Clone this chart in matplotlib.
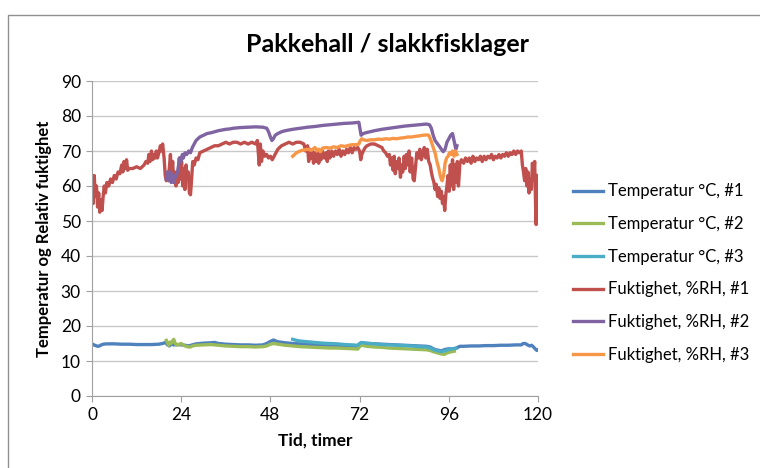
#!/usr/bin/env python3

import matplotlib
matplotlib.use('Agg')
import matplotlib.pyplot as plt
from matplotlib.patches import Rectangle

plt.rcParams['font.family'] = ['Lato', 'DejaVu Sans']

# ---- data (hours, value) ----
temp1_t = [0, 0.5, 1, 1.5, 2, 2.5, 3, 4, 6, 8, 10, 12, 14, 16, 18, 19, 19.8, 20.3, 20.8, 21.3, 22, 23, 24, 25, 26, 27, 28, 30, 32, 33, 34, 36, 38, 40, 42, 44, 46, 47, 48, 48.8, 49.5, 50, 52, 54, 56, 58, 60, 62, 64, 66, 68, 70, 71.5, 72, 72.5, 73, 74, 76, 78, 80, 82, 84, 86, 88, 90, 91, 92, 93, 94, 95, 96, 97, 98, 99, 100, 102, 104, 106, 108, 110, 112, 114, 115.5, 116, 116.6, 117.2, 117.8, 118.3, 118.8, 119.3, 119.7, 120]
temp1_v = [14.9, 14.6, 14.4, 14.2, 14.3, 14.6, 14.8, 14.9, 14.9, 14.8, 14.8, 14.7, 14.7, 14.7, 14.8, 15.0, 15.3, 14.6, 14.3, 14.8, 14.6, 14.7, 14.6, 14.5, 14.3, 14.6, 14.9, 15.1, 15.2, 15.3, 15.0, 14.8, 14.7, 14.6, 14.6, 14.5, 14.6, 15.0, 15.6, 16.0, 15.7, 15.5, 15.2, 15.0, 14.9, 14.8, 14.7, 14.6, 14.5, 14.5, 14.4, 14.3, 14.2, 14.8, 15.2, 15.1, 15.0, 14.9, 14.8, 14.7, 14.6, 14.5, 14.4, 14.3, 14.2, 14.0, 13.4, 13.1, 12.9, 13.3, 13.5, 13.4, 13.7, 14.2, 14.2, 14.3, 14.3, 14.4, 14.4, 14.5, 14.5, 14.6, 14.6, 15.0, 15.0, 14.6, 14.3, 14.5, 14.0, 13.4, 13.0, 13.2]

temp2_t = [20, 20.3, 20.6, 21, 21.3, 21.6, 22, 22.4, 22.8, 23.5, 24, 24.5, 25, 26, 26.5, 27, 28, 30, 32, 34, 36, 38, 40, 42, 44, 46, 47, 48, 49, 50, 52, 54, 56, 58, 60, 62, 64, 66, 68, 70, 71.5, 72, 72.5, 73, 74, 76, 78, 80, 82, 84, 86, 88, 90, 91, 92, 93, 94, 94.8, 95.5, 96.5, 97.5]
temp2_v = [15.9, 15.3, 14.4, 15.4, 15.0, 15.6, 16.2, 15.0, 14.5, 14.8, 15.0, 14.6, 14.3, 14.0, 14.0, 14.3, 14.5, 14.6, 14.7, 14.5, 14.3, 14.2, 14.1, 14.1, 14.0, 14.1, 14.3, 14.8, 15.0, 14.8, 14.5, 14.3, 14.1, 14.0, 13.9, 13.8, 13.7, 13.7, 13.6, 13.5, 13.4, 14.1, 14.5, 14.4, 14.2, 14.0, 13.9, 13.7, 13.6, 13.5, 13.4, 13.3, 13.2, 13.0, 12.6, 12.3, 12.0, 11.9, 12.3, 12.6, 12.8]

temp3_t = [54, 55, 56, 58, 60, 62, 64, 66, 68, 70, 71.5, 72, 72.5, 73, 74, 76, 78, 80, 82, 84, 86, 88, 90, 91, 92, 93, 94, 95, 96, 97, 97.9]
temp3_v = [16.2, 15.9, 15.7, 15.5, 15.3, 15.1, 15.0, 14.9, 14.7, 14.6, 14.5, 15.0, 15.3, 15.2, 15.1, 14.9, 14.7, 14.6, 14.5, 14.4, 14.3, 14.1, 14.0, 13.7, 13.2, 12.9, 12.7, 12.9, 13.3, 13.5, 13.6]

rh1_t = [0.0, 0.3, 0.6, 0.9, 1.2, 1.5, 1.8, 2.1, 2.4, 2.7, 3.0, 3.3, 3.6, 4.0, 4.5, 5.0, 5.5, 6.0, 6.5, 7.0, 7.5, 8.0, 8.3, 8.6, 9.0, 9.3, 9.6, 10, 11, 12, 13, 14, 14.5, 15, 15.3, 15.6, 16, 16.3, 16.6, 17, 17.3, 17.6, 18, 18.4, 18.7, 19, 19.4, 19.7, 20.0, 20.4, 20.8, 21.1, 21.4, 21.7, 22, 22.3, 22.6, 22.9, 23.2, 23.5, 23.8, 24.1, 24.4, 24.7, 25, 25.3, 25.6, 25.9, 26.2, 26.5, 26.8, 27.1, 27.5, 28, 28.5, 29, 30, 31, 32, 33, 34, 35, 36, 37, 38, 39, 40, 41, 42, 43, 44, 44.5, 45, 45.3, 45.6, 46, 46.5, 47, 47.5, 48, 48.5, 49, 50, 51, 52, 53, 54, 55, 56, 57, 57.5, 58, 58.3, 58.6, 59, 59.3, 59.6, 60, 60.3, 60.6, 61, 61.3, 61.6, 62, 62.5, 63, 63.3, 63.6, 64, 64.5, 65, 65.5, 66, 66.5, 67, 67.5, 68, 68.5, 69, 69.5, 70, 70.5, 71, 71.5, 72, 72.3, 72.6, 73, 73.5, 74, 75, 76, 77, 78, 78.5, 79, 79.5, 80, 80.3, 80.6, 81, 81.3, 81.6, 82, 82.3, 82.6, 83, 83.3, 83.6, 84, 84.3, 84.6, 85, 85.3, 85.6, 86, 86.4, 86.7, 87, 87.4, 87.8, 88.2, 88.6, 89, 89.4, 89.8, 90.2, 90.6, 91, 91.3, 91.6, 92, 92.3, 92.6, 93, 93.3, 93.6, 94, 94.3, 94.6, 94.9, 95.2, 95.5, 95.8, 96.1, 96.4, 96.7, 97, 97.3, 97.6, 98, 98.3, 98.6, 99, 99.4, 100, 100.5, 101, 101.5, 102, 102.5, 103, 103.5, 104, 104.5, 105, 105.5, 106, 106.5, 107, 107.5, 108, 108.5, 109, 109.5, 110, 110.5, 111, 111.5, 112, 112.5, 113, 113.5, 114, 114.5, 115, 115.5, 115.8, 116.1, 116.4, 116.7, 117, 117.3, 117.6, 117.9, 118.2, 118.5, 118.8, 119.1, 119.3, 119.5, 119.7, 120]
rh1_v = [62, 55, 63, 57, 60, 54, 58, 52.5, 56, 53, 57, 60, 58, 61, 60, 62, 61, 63, 62, 64, 63.5, 66, 64, 67, 65, 67.5, 64.5, 65, 65, 65.5, 65, 66, 67, 66.5, 69, 67, 70, 67.5, 69, 68, 70, 68, 69.5, 71.5, 70, 72, 68, 63, 61.5, 62, 65, 69, 63, 67, 61, 64, 60, 63, 61, 68, 62, 67, 60, 65, 59, 66, 62, 64, 58, 57.5, 62, 67, 66, 68, 67.5, 69.5, 70, 70.5, 71, 71.5, 71.5, 72, 72.5, 72, 72.5, 72.5, 72, 72.5, 72, 72.5, 72, 73, 66, 72, 67, 70, 68.5, 69, 68, 68.5, 67.5, 68.5, 70.5, 71.5, 72, 72.5, 72, 72.5, 72.5, 72, 70, 71.5, 67, 70.5, 68, 70, 66.5, 69.5, 67, 70, 66.5, 69, 67.5, 70, 68, 69.5, 67, 70, 68, 70, 68.5, 70, 69, 70.5, 68.5, 70, 69, 70.5, 69.5, 71, 69.5, 71, 70.5, 71, 70, 67.5, 69, 70, 71, 71.5, 72, 72, 71.5, 71, 70, 69.5, 68.5, 69, 66, 68, 64.5, 68.5, 63.5, 67, 65, 68, 62.5, 66, 64, 68.5, 65, 69, 66, 70, 64, 68, 62, 61.5, 65, 69.5, 68, 70.5, 67.5, 69, 71, 68, 70.5, 67, 66, 64, 62.5, 61, 59, 60.5, 57, 59.5, 56.5, 58.5, 55, 57, 53, 57.5, 60, 63, 58.5, 66, 60, 67.5, 59, 66, 61, 67, 60, 66.5, 67.5, 66.5, 68, 67, 68, 66.5, 68.5, 67, 68, 67.5, 68.5, 67, 68.5, 67.5, 68.5, 68, 69, 67.5, 68.5, 68, 69, 68, 69, 68.5, 69.5, 68.5, 69.5, 69, 70, 69, 70, 69.5, 70, 66, 64, 61.5, 65, 60, 64, 58, 62, 59, 66.5, 62, 67, 57, 49, 58, 63]

rh2_t = [20, 20.3, 20.6, 21, 21.3, 21.6, 22, 22.3, 22.6, 23, 23.3, 23.6, 24, 24.3, 24.6, 25, 25.5, 26, 26.5, 27, 27.5, 28, 29, 30, 31, 32, 33, 34, 35, 36, 37, 38, 40, 42, 44, 46, 47, 47.5, 48, 48.4, 48.8, 49.3, 50, 51, 52, 54, 56, 58, 60, 62, 64, 66, 68, 70, 71.8, 72, 72.4, 73, 74, 76, 78, 80, 82, 84, 86, 88, 90, 90.8, 91.3, 91.8, 92.3, 93, 93.5, 94, 94.5, 95, 95.5, 96, 96.5, 97, 97.3, 97.6, 97.9, 98.2]
rh2_v = [62, 64, 61.5, 64, 61, 63.5, 61, 63, 62.5, 64, 66, 68, 67, 69, 68, 69.5, 69, 70, 69.5, 71, 72, 73, 74, 74.5, 75, 75.2, 75.5, 75.8, 76, 76.2, 76.3, 76.5, 76.7, 76.8, 76.9, 76.8, 76.5, 75.5, 74, 73, 73.5, 74.5, 75, 75.5, 75.8, 76.2, 76.5, 76.8, 77, 77.3, 77.5, 77.7, 77.9, 78, 78.2, 77, 74.5, 75, 75.3, 75.8, 76.2, 76.5, 76.8, 77.1, 77.3, 77.5, 77.7, 77.5, 76.5, 74.5, 73, 72, 71.3, 70.5, 69.8, 70.5, 72.5, 73.5, 74.5, 75, 73.5, 72, 70.5, 71.5]

rh3_t = [54, 55, 56, 57, 58, 59, 60, 60.5, 61, 61.5, 62, 63, 64, 65, 66, 67, 68, 69, 70, 71, 71.8, 72.2, 72.6, 73, 74, 75, 76, 77, 78, 79, 80, 81, 82, 83, 84, 85, 86, 87, 88, 89, 90, 90.6, 91.2, 91.8, 92.3, 92.8, 93.3, 93.8, 94.2, 94.6, 95, 95.4, 95.8, 96.2, 96.6, 97, 97.4, 97.8, 98.2]
rh3_v = [68.5, 69.5, 70, 70.3, 70.5, 70.2, 71, 70, 70.5, 69.8, 70.8, 71, 70.8, 71.2, 71, 71.5, 71.3, 71.6, 71.8, 71.8, 72, 73, 73.5, 73.2, 73, 73.2, 73.2, 73.4, 73.3, 73.5, 73.4, 73.6, 73.5, 73.7, 73.8, 74, 74, 74.2, 74.3, 74.5, 74.6, 74.5, 73, 71, 69.5, 67, 65, 62.5, 61.5, 63, 66.5, 68, 68.5, 69.5, 69, 70, 68.5, 70, 69]

labels = ["Temperatur \u00b0C, #1", "Temperatur \u00b0C, #2", "Temperatur \u00b0C, #3",
          "Fuktighet, %RH, #1", "Fuktighet, %RH, #2", "Fuktighet, %RH, #3"]
colors = ["#4F81BD", "#9BBB59", "#4BACC6", "#C0504D", "#8064A2", "#F79646"]
xticks = [0, 24, 48, 72, 96, 120]
yticks = list(range(0, 100, 10))

fig = plt.figure(figsize=(7.6, 4.68), dpi=100)
ax = fig.add_axes([92 / 760, 72 / 468, 446 / 760, 315 / 468])

series = [(temp1_t, temp1_v), (temp2_t, temp2_v), (temp3_t, temp3_v),
          (rh1_t, rh1_v), (rh2_t, rh2_v), (rh3_t, rh3_v)]
for (t, v), c, lab in zip(series, colors, labels):
    ax.plot(t, v, color=c, lw=2.4, label=lab, solid_joinstyle='round')

ax.set_xlim(0, 120)
ax.set_ylim(0, 90)
ax.set_xticks(xticks)
ax.set_yticks(yticks)
ax.grid(axis='y', color='#C8C8C8', lw=1)
ax.set_axisbelow(True)
for s in ['top', 'right']:
    ax.spines[s].set_visible(False)
for s in ['left', 'bottom']:
    ax.spines[s].set_color('#A0A0A0')
ax.tick_params(direction='out', length=4, color='#A0A0A0', labelsize=12.5, pad=4)

ax.set_xlabel("Tid, timer", fontsize=12.5, fontweight='bold', labelpad=7)
ax.set_ylabel("Temperatur og Relativ fuktighet", fontsize=12, fontweight='bold', labelpad=6)
fig.text(388 / 760, 1 - 45 / 468, "Pakkehall / slakkfisklager", fontsize=18,
         fontweight='bold', ha='center', va='center')

fig.legend(loc='center left', bbox_to_anchor=(573 / 760, 1 - 273 / 468), frameon=False,
           fontsize=12, handlelength=1.8, handletextpad=0.3, labelspacing=1.0,
           borderpad=0, borderaxespad=0)

# chart area border (runs off the right/bottom of the image)
fig.patches.append(Rectangle((8 / 760, -0.1), 1.2, 1.1 - 15 / 468, transform=fig.transFigure,
                             fill=False, edgecolor='#909090', lw=1))

fig.savefig("out.png", dpi=100)
